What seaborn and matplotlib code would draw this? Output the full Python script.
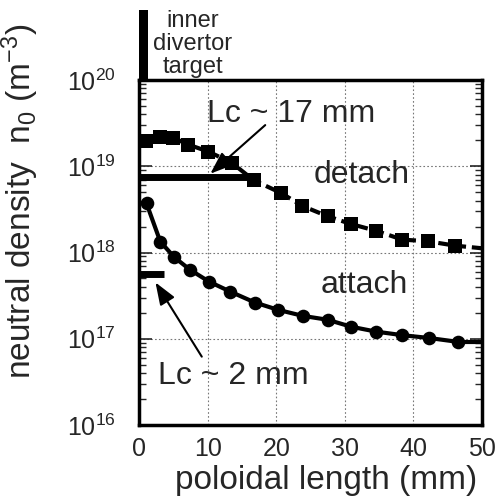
import numpy as np
import pandas as pd
import matplotlib
matplotlib.use("Agg")
import matplotlib.pyplot as plt
import seaborn as sns
from matplotlib.ticker import LogLocator, FixedLocator, NullFormatter, FuncFormatter
from matplotlib.patches import Rectangle

# ---- data ----
detach_x = [1.0, 3.1, 5.0, 7.2, 10.1, 13.5, 16.7, 20.7, 23.8, 27.5, 30.9, 34.6, 38.4, 42.1, 46.1]
detach_n = [1.95e19, 2.19e19, 2.14e19, 1.78e19, 1.48e19, 1.10e19, 6.9e18, 4.9e18, 3.47e18,
            2.63e18, 2.14e18, 1.78e18, 1.41e18, 1.35e18, 1.20e18]
detach_tail_x = [46.1, 52.0]
detach_tail_n = [1.20e18, 1.08e18]

attach_x = [1.1, 3.1, 5.15, 7.45, 10.2, 13.3, 16.9, 20.3, 23.9, 27.5, 30.9, 34.55, 38.4, 42.3, 46.5]
attach_n = [3.7e18, 1.34e18, 8.8e17, 6.3e17, 4.6e17, 3.52e17, 2.63e17, 2.16e17, 1.84e17,
            1.66e17, 1.38e17, 1.21e17, 1.10e17, 1.02e17, 9.2e16]
attach_tail_x = [46.5, 52.0]
attach_tail_n = [9.2e16, 9.2e16]

lc17_x = [0.0, 15.8]
lc17_n = [7.6e18, 7.6e18]
lc2_x = [0.0, 3.7]
lc2_n = [5.65e17, 5.65e17]

x_ticks = [0, 10, 20, 30, 40, 50]
y_ticks = [1e16, 1e17, 1e18, 1e19, 1e20]

# ---- style ----
sns.set_style("white")
plt.rcParams['font.family'] = ['Liberation Sans', 'DejaVu Sans']
plt.rcParams['mathtext.fontset'] = 'custom'
plt.rcParams['mathtext.rm'] = 'Liberation Sans'
plt.rcParams['mathtext.it'] = 'Liberation Sans:italic'
plt.rcParams['mathtext.bf'] = 'Liberation Sans:bold'

fig = plt.figure(figsize=(4.95, 4.99), dpi=100)
ax = fig.add_axes([139/495, 1-425/499, 343/495, 345/499])

ax.set_yscale('log')
ax.set_xlim(0, 50)
ax.set_ylim(1e16, 1e20)

# grid
for xv in [10, 20, 30, 40]:
    ax.axvline(xv, color='#777777', lw=0.8, ls=(0, (1.5, 2)), zorder=0)
for yv in [1e17, 1e18, 1e19]:
    ax.axhline(yv, color='#777777', lw=0.8, ls=(0, (1.5, 2)), zorder=0)

df_d = pd.DataFrame({'x': detach_x, 'n': detach_n})
df_a = pd.DataFrame({'x': attach_x, 'n': attach_n})

dash = (0, (2.6, 1.4))
sns.lineplot(data=pd.DataFrame({'x': detach_tail_x, 'n': detach_tail_n}), x='x', y='n',
             ax=ax, color='black', lw=3, linestyle=dash, zorder=3)
sns.lineplot(data=df_d, x='x', y='n', ax=ax, color='black', lw=3,
             linestyle=dash, marker='s', markersize=10.5, markeredgewidth=0,
             zorder=3)
sns.lineplot(data=pd.DataFrame({'x': attach_tail_x, 'n': attach_tail_n}), x='x', y='n',
             ax=ax, color='black', lw=3, zorder=3)
sns.lineplot(data=df_a, x='x', y='n', ax=ax, color='black', lw=3,
             marker='o', markersize=9.8, markeredgewidth=0, zorder=3)

ax.plot(lc17_x, lc17_n, color='black', lw=5, solid_capstyle='butt', zorder=4)
ax.plot(lc2_x, lc2_n, color='black', lw=5, solid_capstyle='butt', zorder=4)

# inner divertor target bar (above the axes)
ax.add_patch(Rectangle((0, 1.0), 9/343, 70/345, transform=ax.transAxes,
                       facecolor='black', edgecolor='none', clip_on=False, zorder=5))
ax.text(0.156, 1.203, 'inner\ndivertor\ntarget', transform=ax.transAxes,
        ha='center', va='top', fontsize=17, linespacing=1.05)

# annotations
arrow_style = dict(arrowstyle='-|>,head_length=0.8,head_width=0.3', color='black',
                   lw=1.5, mutation_scale=17, shrinkA=0, shrinkB=0)
ax.annotate('', xy=(10.4, 8.2e18), xytext=(18.4, 3.0e19), arrowprops=arrow_style)
ax.annotate('', xy=(2.4, 4.5e17), xytext=(9.15, 6.2e16), arrowprops=arrow_style)
ax.text(9.9, 3.3e19, 'Lc ~ 17 mm', fontsize=23, va='baseline', ha='left')
ax.text(25.5, 6.35e18, 'detach', fontsize=23, va='baseline', ha='left')
ax.text(26.5, 3.4e17, 'attach', fontsize=23, va='baseline', ha='left')
ax.text(2.8, 3.0e16, 'Lc ~ 2 mm', fontsize=23, va='baseline', ha='left')

# ticks
ax.xaxis.set_major_locator(FixedLocator(x_ticks))
ax.set_xticklabels([str(v) for v in x_ticks])
ax.yaxis.set_major_locator(FixedLocator(y_ticks))
ax.yaxis.set_major_formatter(FuncFormatter(
    lambda v, p: r'$\mathregular{10^{%d}}$' % int(round(np.log10(v)))))
ax.yaxis.set_minor_locator(LogLocator(base=10, subs=np.arange(2, 10), numticks=20))
ax.yaxis.set_minor_formatter(NullFormatter())
ax.tick_params(axis='y', which='major', direction='in', length=9, width=1.2,
               left=True, right=True, labelsize=18, pad=17)
ax.tick_params(axis='y', which='minor', direction='in', length=5, width=1.0,
               left=True, right=True)
ax.tick_params(axis='x', which='major', direction='in', length=0, labelsize=18, pad=9)

for s in ax.spines.values():
    s.set_linewidth(2.5)
    s.set_color('black')

ax.set_xlabel('poloidal length (mm)', fontsize=24)
ax.set_ylabel(r'neutral density  n$_\mathregular{0}$ (m$^\mathregular{-3}$)', fontsize=24)
ax.xaxis.set_label_coords(0.545, -0.115)
ax.yaxis.set_label_coords(-0.285, 0.65)

fig.savefig('out.png', dpi=100)
